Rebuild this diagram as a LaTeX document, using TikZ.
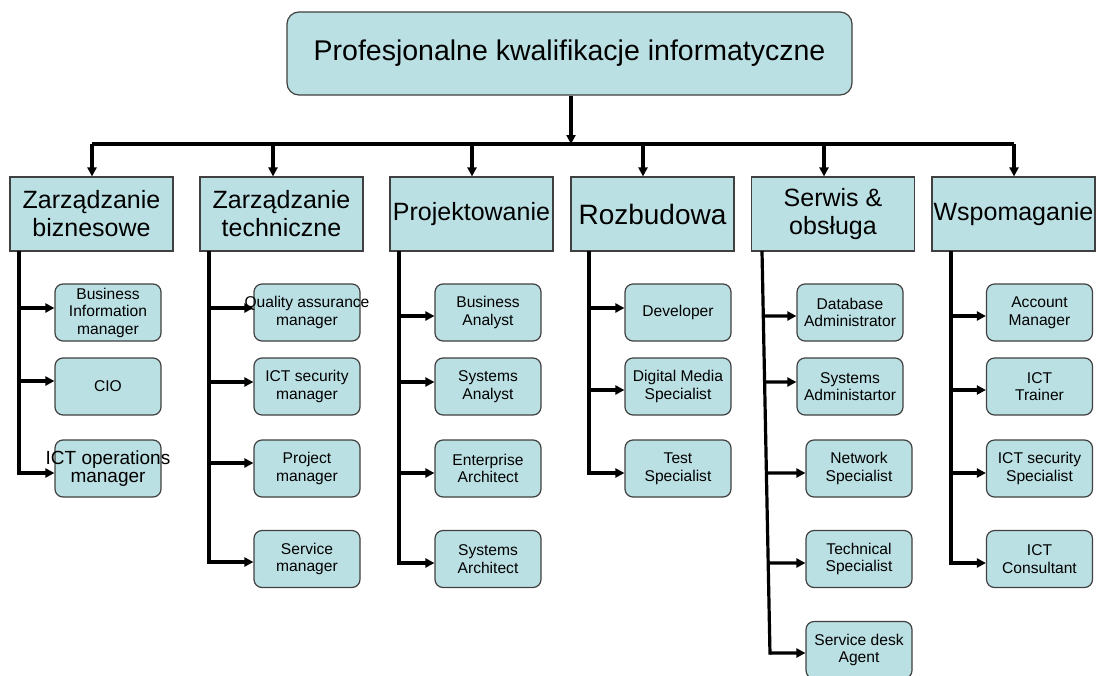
\documentclass[tikz,border=0pt]{standalone}
\usepackage{fontspec}
\setmainfont{Liberation Sans}
\usetikzlibrary{arrows.meta,calc}
\definecolor{boxfill}{RGB}{187,224,227}
\definecolor{boxline}{RGB}{64,64,64}
\tikzset{topbox/.style={draw=boxline,line width=1.2pt,fill=boxfill,rounded corners=12pt,
   minimum width=565pt,minimum height=83pt,inner sep=0pt,font=\fontsize{28.5}{32}\selectfont},
 catbox/.style={draw=boxline,line width=1.2pt,fill=boxfill,minimum width=163pt,
   minimum height=74pt,inner sep=0pt,align=center,font=\fontsize{25}{28}\selectfont},
 jobbox/.style={draw=boxline,line width=1.2pt,fill=boxfill,rounded corners=8pt,
   minimum width=106pt,minimum height=57pt,inner sep=0pt,align=center,
   font=\fontsize{15.6}{17.5}\selectfont},
 wire/.style={line width=3.2pt},
 feed/.style={wire,-{Triangle[length=9pt,width=9pt]}},
 }
\newcommand{\bigjob}{\fontsize{19}{20.5}\selectfont}

\begin{document}
\begin{tikzpicture}[x=1pt,y=-1pt]
        \useasboundingbox (0,0) rectangle (1097,675);

        \node[topbox] (top) at (569.5,53.5) {Profesjonalne kwalifikacje informatyczne};

        \node[catbox] (zb) at (91.5,214) {Zarządzanie\\biznesowe};
        \node[catbox] (zt) at (281.5,214) {Zarządzanie\\techniczne};
        \node[catbox] (pj) at (471.5,214) {Projektowanie};
        \node[catbox,font=\fontsize{28}{30}\selectfont] (rz) at (652.5,214) {Rozbudowa};
        \node[catbox] (so) at (833,214) {Serwis \&\\obsługa};
        \node[catbox] (ws) at (1013.5,214) {Wspomaganie};

        % top level
        \coordinate (bus) at (571,144);
        \coordinate (busL) at (92,144);
        \coordinate (busR) at (1014,144);
        \draw[feed] (top.south -| bus) -- (bus);
        \draw[wire] (busL) -- (busR);
        \foreach \c/\ax in {zb/92, zt/273, pj/472, rz/643, so/824, ws/1014} {
            \draw[feed] (bus -| \ax,0) -- (\c.north -| \ax,0);
        }

        % spines
        \coordinate (s1) at (19,251);
        \coordinate (s2) at (209,251);
        \coordinate (s3) at (399,251);
        \coordinate (s4) at (589,251);
        \coordinate (s5) at (762,251);
        \coordinate (s5e) at (770,654.6);
        \coordinate (s6) at (951,251);
        \draw[wire] (s1) -- (s1 |- 0,474.6);
        \draw[wire] (s2) -- (s2 |- 0,563.6);
        \draw[wire] (s3) -- (s3 |- 0,564.6);
        \draw[wire] (s4) -- (s4 |- 0,474.6);
        \draw[wire] (s5) -- (s5e);
        \draw[wire] (s6) -- (s6 |- 0,564.6);

        % Zarzadzanie biznesowe
        \foreach \job/\yy/\ay [count=\i] in {{Business\\Information\\manager}/312.5/308,
            CIO/386.5/381,
            {\bigjob\makebox[0pt]{ICT operations}\\\bigjob manager}/468.5/473} {
            \node[jobbox] (bz\i) at (108,\yy) {\job};
            \draw[feed] (s1 |- 0,\ay) -- (bz\i.west |- 0,\ay);
        }

        % Zarzadzanie techniczne
        \foreach \job/\yy/\ay [count=\i] in {{\makebox[0pt]{Quality assurance}\\manager}/312.5/308,
            {ICT security\\manager}/386.5/382,
            {Project\\manager}/468.5/463,
            {Service\\manager}/559/562} {
            \node[jobbox] (tc\i) at (307,\yy) {\job};
            \draw[feed] (s2 |- 0,\ay) -- (tc\i.west |- 0,\ay);
        }

        % Projektowanie
        \foreach \job/\yy/\ay [count=\i] in {{Business\\Analyst}/312.5/316,
            {Systems\\Analyst}/386.5/382,
            {Enterprise\\Architect}/468.5/473,
            {Systems\\Architect}/559/563} {
            \node[jobbox] (pr\i) at (488,\yy) {\job};
            \draw[feed] (s3 |- 0,\ay) -- (pr\i.west |- 0,\ay);
        }

        % Rozbudowa
        \foreach \job/\yy/\ay [count=\i] in {Developer/312.5/308,
            {Digital Media\\Specialist}/386.5/390,
            {Test\\Specialist}/468.5/473} {
            \node[jobbox] (rb\i) at (678,\yy) {\job};
            \draw[feed] (s4 |- 0,\ay) -- (rb\i.west |- 0,\ay);
        }

        % Serwis & obsluga (slanted spine)
        \foreach \job/\xx/\yy/\ay [count=\i] in {{Database\\Administrator}/850/312.5/316,
            {Systems\\Administartor}/850/386.5/382,
            {Network\\Specialist}/859/468.5/473,
            {Technical\\Specialist}/859/559/563,
            {Service desk\\Agent}/859/650/653} {
            \node[jobbox] (sv\i) at (\xx,\yy) {\job};
            \pgfmathsetmacro\fr{(\ay-251)/403.6}
            \draw[feed] ($(s5)!\fr!(s5e)$) -- (sv\i.west |- 0,\ay);
        }

        % Wspomaganie
        \foreach \job/\yy/\ay [count=\i] in {{Account\\Manager}/312.5/316,
            {ICT\\Trainer}/386.5/390,
            {ICT security\\Specialist}/468.5/473,
            {ICT\\Consultant}/559/563} {
            \node[jobbox] (wp\i) at (1039.5,\yy) {\job};
            \draw[feed] (s6 |- 0,\ay) -- (wp\i.west |- 0,\ay);
        }
\end{tikzpicture}
\end{document}
